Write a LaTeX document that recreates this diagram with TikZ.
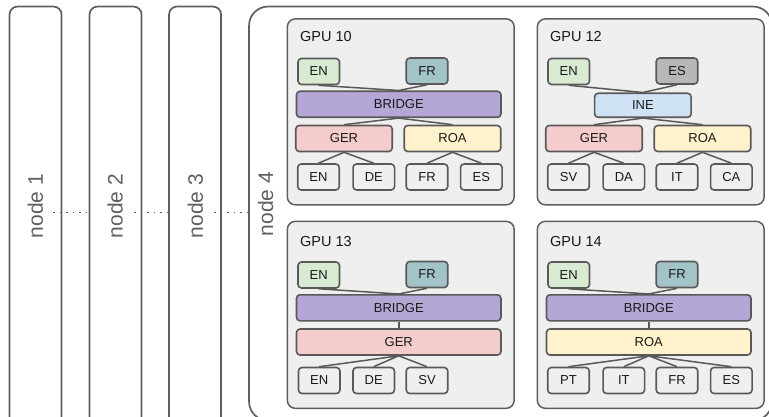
\documentclass[tikz,border=0pt]{standalone}
\usepackage{fontspec}
\setmainfont{Liberation Sans}
\definecolor{cEN}{HTML}{D9EAD3}
\definecolor{cFR}{HTML}{A2C4C9}
\definecolor{cES}{HTML}{B7B7B7}
\definecolor{cBR}{HTML}{B4A7D6}
\definecolor{cINE}{HTML}{CFE2F3}
\definecolor{cGER}{HTML}{F4CCCC}
\definecolor{cROA}{HTML}{FFF2CC}
\definecolor{cGPU}{HTML}{EFEFEF}
\definecolor{cline}{HTML}{595959}
\definecolor{chost}{HTML}{5F5F5F}
\definecolor{clabel}{HTML}{5F5F5F}
\begin{document}
\begin{tikzpicture}[x=1pt,y=-1pt,
  host/.style={draw=chost, line width=1.7pt, rounded corners=8pt, fill=white, inner sep=0pt, anchor=north west},
  hostlabel/.style={rotate=90, text=clabel, font=\fontsize{21}{25}\selectfont, inner sep=0pt},
  gpu/.style={draw=chost, line width=1.5pt, rounded corners=8pt, fill=cGPU, inner sep=0pt, anchor=north west, minimum width=226.8pt},
  title/.style={anchor=base west, inner sep=0pt, text=black!90, font=\fontsize{14.5}{17}\selectfont},
  box/.style={draw=cline, line width=1.6pt, rounded corners=3.5pt, inner sep=0pt, text=black!90,
    font=\fontsize{13}{15}\selectfont, minimum height=26pt},
  small/.style={box, minimum width=41.5pt},
  leaf/.style={small, fill=cGPU},
  wide/.style={box, minimum width=204.5pt},
  half/.style={box, minimum width=96.5pt},
  link/.style={draw=cline, line width=1.5pt},
  dotline/.style={draw=chost, line width=1.7pt, dash pattern=on 1.5pt off 5pt}
]
\useasboundingbox (0,0) rectangle (769,417);

% hosts
\node[host, minimum width=52pt, minimum height=420pt] (n1) at (8.7,5.7) {};
\node[host, minimum width=52pt, minimum height=420pt] (n2) at (88.7,5.7) {};
\node[host, minimum width=52pt, minimum height=420pt] (n3) at (168.2,5.7) {};
\node[host, rounded corners=19pt, minimum width=523pt, minimum height=414pt] (n4) at (248.2,5.7) {};
\node[hostlabel] (l1) at (35.3,206) {node 1};
\node[hostlabel] (l2) at (115.2,206) {node 2};
\node[hostlabel] (l3) at (195.3,206) {node 3};
\node[hostlabel] (l4) at (265.5,204) {node 4};
\coordinate (d1) at (53,212.5);
\coordinate (d2) at (134,212.5);
\coordinate (d3) at (214,212.5);
\draw[dotline] (d1) -- (n2.west |- d1);
\draw[dotline] (d2) -- (n3.west |- d2);
\draw[dotline] (d3) -- (n4.west |- d3);

% GPU 10
\node[gpu, minimum height=186pt] (a) at (286.6,18.1) {};
\node[title] (at) at (300,42) {GPU 10};
\node[small, fill=cEN] (aen) at (318.75,71.5) {EN};
\node[small, fill=cFR] (afr) at (427,71) {FR};
\node[wide, fill=cBR] (abr) at (398.75,104.3) {BRIDGE};
\node[half, fill=cGER] (ager) at (344,138.5) {GER};
\node[half, fill=cROA] (aroa) at (452.5,138.5) {ROA};
\node[leaf] (al1) at (318.5,177) {EN};
\node[leaf] (al2) at (373.8,177) {DE};
\node[leaf] (al3) at (427,177) {FR};
\node[leaf] (al4) at (481.3,177) {ES};
\draw[link] (aen.south) -- (abr.north) -- (afr.south);
\draw[link] (ager.north) -- (abr.south) -- (aroa.north);
\draw[link] (al1.north) -- (ager.south) -- (al2.north);
\draw[link] (al3.north) -- (aroa.south) -- (al4.north);

% GPU 12
\begin{scope}[shift={(250,0)}]
\node[gpu, minimum height=186pt] (b) at (286.6,18.1) {};
\node[title] (bt) at (300,42) {GPU 12};
\node[small, fill=cEN] (ben) at (318.75,71.5) {EN};
\node[small, fill=cES] (bes) at (427,71) {ES};
\node[box, fill=cINE, minimum width=96.5pt, minimum height=24pt] (bine) at (392.9,105.3) {INE};
\node[half, fill=cGER] (bger) at (344,138.5) {GER};
\node[half, fill=cROA] (broa) at (452.5,138.5) {ROA};
\node[leaf] (bl1) at (318.5,177) {SV};
\node[leaf] (bl2) at (373.8,177) {DA};
\node[leaf] (bl3) at (427,177) {IT};
\node[leaf] (bl4) at (481.3,177) {CA};
\draw[link] (ben.south) -- (bine.north) -- (bes.south);
\draw[link] (bger.north) -- (bine.south) -- (broa.north);
\draw[link] (bl1.north) -- (bger.south) -- (bl2.north);
\draw[link] (bl3.north) -- (broa.south) -- (bl4.north);
\end{scope}

% GPU 13
\node[gpu, minimum height=187pt] (c) at (286.6,220.6) {};
\begin{scope}[shift={(0,203.5)}]
\node[title] (ct) at (300,42.5) {GPU 13};
\node[small, fill=cEN] (cen) at (318.75,71.5) {EN};
\node[small, fill=cFR] (cfr) at (427,71) {FR};
\node[wide, fill=cBR] (cbr) at (398.75,104.3) {BRIDGE};
\node[wide, fill=cGER] (cger) at (398.75,138.5) {GER};
\node[leaf] (cl1) at (319.2,177) {EN};
\node[leaf] (cl2) at (373.7,177) {DE};
\node[leaf] (cl3) at (427,177) {SV};
\draw[link] (cen.south) -- (cbr.north) -- (cfr.south);
\draw[link] (cbr.south) -- (cger.north);
\draw[link] (cl1.north) -- (cger.south) -- (cl2.north);
\draw[link] (cger.south) -- (cl3.north);
\end{scope}

% GPU 14
\begin{scope}[shift={(250,0)}]
\node[gpu, minimum height=187pt] (d) at (286.6,220.6) {};
\end{scope}
\begin{scope}[shift={(250,203.5)}]
\node[title] (dt) at (300,42.5) {GPU 14};
\node[small, fill=cEN] (den) at (318.75,71.5) {EN};
\node[small, fill=cFR] (dfr) at (427,71) {FR};
\node[wide, fill=cBR] (dbr) at (398.75,104.3) {BRIDGE};
\node[wide, fill=cROA] (droa) at (398.75,138.5) {ROA};
\node[leaf] (dl1) at (318.5,177) {PT};
\node[leaf] (dl2) at (373.8,177) {IT};
\node[leaf] (dl3) at (427,177) {FR};
\node[leaf] (dl4) at (481.3,177) {ES};
\draw[link] (den.south) -- (dbr.north) -- (dfr.south);
\draw[link] (dbr.south) -- (droa.north);
\draw[link] (dl1.north) -- (droa.south) -- (dl2.north);
\draw[link] (dl3.north) -- (droa.south) -- (dl4.north);
\end{scope}
\end{tikzpicture}
\end{document}
